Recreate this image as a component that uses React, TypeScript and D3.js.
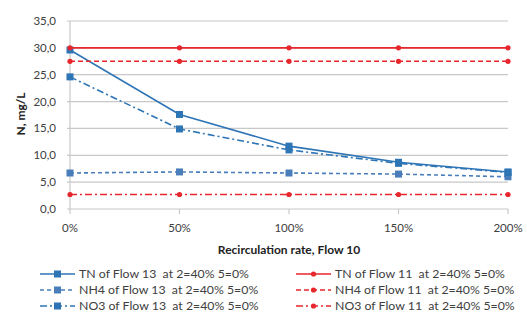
import React from "react";
import * as d3 from "d3";

const W = 527;
const H = 329;

const rates = ["0%", "50%", "100%", "150%", "200%"];
const yTicks = [0, 5, 10, 15, 20, 25, 30, 35];

const tn13 = [29.6, 17.6, 11.7, 8.7, 6.9];
const nh413 = [6.7, 6.9, 6.7, 6.5, 6.0];
const no313 = [24.6, 14.9, 11.0, 8.5, 6.8];
const tn11 = [30.0, 30.0, 30.0, 30.0, 30.0];
const nh411 = [27.5, 27.5, 27.5, 27.5, 27.5];
const no311 = [2.7, 2.7, 2.7, 2.7, 2.7];

const blue = "#2e75b6";
const blueLight = "#4a7ebb";
const red = "#e8262d";
const txt = "#404040";
const font = "Lato, 'Open Sans', sans-serif";

const series = [
  { name: "TN of Flow 13  at 2=40% 5=0%", vals: tn13, color: blue, dash: "", mark: "sq" },
  { name: "NH4 of Flow 13  at 2=40% 5=0%", vals: nh413, color: blueLight, dash: "4,3", mark: "sq" },
  { name: "NO3 of Flow 13  at 2=40% 5=0%", vals: no313, color: blue, dash: "7,3,2,3", mark: "sq" },
  { name: "TN of Flow 11  at 2=40% 5=0%", vals: tn11, color: red, dash: "", mark: "dot" },
  { name: "NH4 of Flow 11  at 2=40% 5=0%", vals: nh411, color: red, dash: "5,3", mark: "dot" },
  { name: "NO3 of Flow 11  at 2=40% 5=0%", vals: no311, color: red, dash: "7,3,2,3", mark: "dot" },
];

const Marker = ({ x, y, color, mark }: any) =>
  mark === "sq" ? (
    <rect x={x - 3.5} y={y - 3.5} width={7} height={7} fill={color} />
  ) : (
    <circle cx={x} cy={y} r={2.6} fill={color} />
  );

export default function App() {
  const x = d3.scalePoint<string>().domain(rates).range([70, 508]);
  const y = d3.scaleLinear().domain([0, 35]).range([209, 21]);
  const line = d3
    .line<number>()
    .x((_, i) => x(rates[i]) as number)
    .y((d) => y(d));

  return (
    <svg
      width={W}
      height={H}
      style={{ position: "absolute", left: 0, top: 0, background: "#fff" }}
      fontFamily={font}
    >
      {yTicks.map((t) => (
        <g key={t}>
          {t > 0 && (
            <line x1={67} x2={508} y1={y(t)} y2={y(t)} stroke="#c8c8c8" strokeWidth={1.2} />
          )}
          <text x={56} y={y(t)} dy="0.35em" textAnchor="end" fontSize={11.5} fill={txt}>
            {d3.format(".1f")(t).replace(".", ",")}
          </text>
        </g>
      ))}
      <line x1={70} x2={70} y1={21} y2={209} stroke="#c8c8c8" strokeWidth={1.2} />
      <line x1={67} x2={508} y1={209} y2={209} stroke="#c8c8c8" strokeWidth={1.2} />
      {rates.map((r) => (
        <g key={r}>
          <line x1={x(r)} x2={x(r)} y1={209} y2={214} stroke="#c8c8c8" strokeWidth={1.2} />
          <text x={x(r)} y={228} dy="0.35em" textAnchor="middle" fontSize={11.5} fill={txt}>
            {r}
          </text>
        </g>
      ))}
      <text x={289} y={250} dy="0.35em" textAnchor="middle" fontSize={12} fontWeight="bold" fill="#222">
        Recirculation rate, Flow 10
      </text>
      <text
        transform="translate(21,114) rotate(-90)"
        dy="0.35em"
        textAnchor="middle"
        fontSize={12}
        fontWeight="bold"
        fill="#222"
      >
        N, mg/L
      </text>

      {series.map((s) => (
        <g key={s.name}>
          <path d={line(s.vals) || ""} fill="none" stroke={s.color} strokeWidth={1.6} strokeDasharray={s.dash} />
          {s.vals.map((v, i) => (
            <Marker key={i} x={x(rates[i])} y={y(v)} color={s.color} mark={s.mark} />
          ))}
        </g>
      ))}

      {series.map((s, i) => {
        const col = Math.floor(i / 3);
        const row = i % 3;
        const lx = col === 0 ? 40 : 296;
        const ly = 274 + row * 16;
        return (
          <g key={"lg" + i}>
            <line x1={lx} x2={lx + 35} y1={ly} y2={ly} stroke={s.color} strokeWidth={1.6} strokeDasharray={s.dash} />
            <Marker x={lx + 17.5} y={ly} color={s.color} mark={s.mark} />
            <text x={lx + 39} y={ly} dy="0.35em" fontSize={12.3} fill={txt} style={{ whiteSpace: "pre" }}>
              {s.name}
            </text>
          </g>
        );
      })}
    </svg>
  );
}
